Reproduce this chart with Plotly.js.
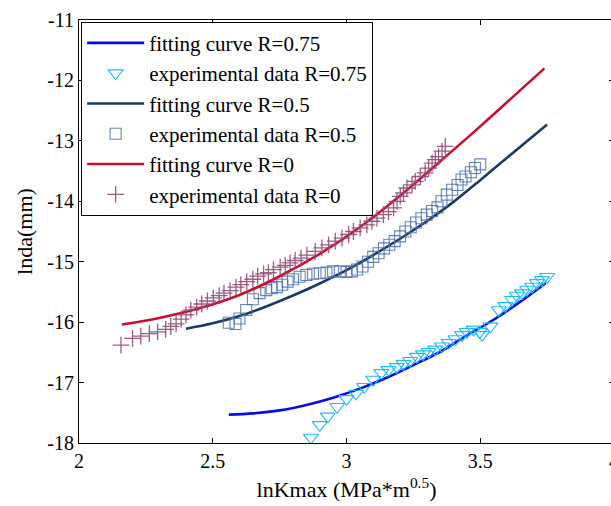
<!DOCTYPE html>
<html>
<head>
<meta charset="utf-8">
<script src="https://cdn.plot.ly/plotly-3.0.1.min.js"></script>
<style>
html, body { margin: 0; padding: 0; overflow: hidden; background: #fff; font-family: 'Times New Roman'; }
#chart svg text { font-family: 'Times New Roman', 'Liberation Serif', serif !important; }
</style>
</head>
<body>
<div id="chart" style="width:620px;height:506px"></div>
<script>
// Fitting curve R=0.75
var fit075X = [2.56, 2.65, 2.75, 2.85, 2.95, 3.05, 3.15, 3.25, 3.35, 3.45, 3.55, 3.65, 3.745];
var fit075Y = [-17.53, -17.51, -17.46, -17.37, -17.25, -17.10, -16.92, -16.71, -16.49, -16.22, -15.96, -15.66, -15.35];
// Experimental data R=0.75
var exp075X = [2.867, 2.90, 2.93, 2.965, 3.00, 3.036, 3.066, 3.10, 3.13, 3.157, 3.188, 3.213, 3.238, 3.263, 3.286, 3.307, 3.332, 3.357, 3.382, 3.407, 3.432, 3.45, 3.475, 3.498, 3.507, 3.538, 3.569, 3.594, 3.619, 3.637, 3.656, 3.675, 3.694, 3.712, 3.731, 3.75];
var exp075Y = [-17.91, -17.70, -17.56, -17.40, -17.27, -17.18, -17.07, -16.95, -16.84, -16.79, -16.74, -16.69, -16.64, -16.57, -16.53, -16.49, -16.45, -16.40, -16.34, -16.28, -16.21, -16.16, -16.12, -16.16, -16.21, -16.07, -15.80, -15.73, -15.63, -15.56, -15.52, -15.46, -15.41, -15.35, -15.30, -15.25];
// Fitting curve R=0.5
var fit05X = [2.40, 2.5, 2.6, 2.7, 2.8, 2.9, 3.0, 3.1, 3.2, 3.3, 3.4, 3.5, 3.6, 3.75];
var fit05Y = [-16.11, -16.02, -15.90, -15.74, -15.56, -15.36, -15.14, -14.89, -14.62, -14.33, -14.01, -13.65, -13.28, -12.73];
// Experimental data R=0.5
var exp05X = [2.56, 2.585, 2.60, 2.625, 2.65, 2.675, 2.70, 2.72, 2.74, 2.76, 2.78, 2.80, 2.825, 2.85, 2.875, 2.90, 2.925, 2.95, 2.975, 3.00, 3.02, 3.04, 3.06, 3.08, 3.10, 3.12, 3.14, 3.16, 3.18, 3.20, 3.22, 3.24, 3.26, 3.28, 3.30, 3.32, 3.34, 3.355, 3.375, 3.395, 3.415, 3.43, 3.445, 3.465, 3.48, 3.50];
var exp05Y = [-16.01, -16.03, -15.94, -15.80, -15.62, -15.52, -15.47, -15.44, -15.42, -15.38, -15.33, -15.29, -15.25, -15.22, -15.20, -15.19, -15.18, -15.16, -15.16, -15.17, -15.16, -15.13, -15.08, -15.00, -14.92, -14.86, -14.78, -14.72, -14.66, -14.58, -14.50, -14.43, -14.35, -14.28, -14.22, -14.16, -14.10, -14.00, -13.89, -13.81, -13.73, -13.64, -13.59, -13.52, -13.45, -13.39];
// Fitting curve R=0
var fit0X = [2.16, 2.3, 2.45, 2.6, 2.75, 2.9, 3.05, 3.2, 3.35, 3.5, 3.62, 3.74];
var fit0Y = [-16.04, -15.93, -15.77, -15.55, -15.24, -14.87, -14.43, -13.91, -13.34, -12.76, -12.28, -11.80];
// Experimental data R=0
var exp0X = [2.157, 2.200, 2.231, 2.263, 2.294, 2.324, 2.343, 2.363, 2.382, 2.400, 2.418, 2.440, 2.459, 2.480, 2.502, 2.524, 2.542, 2.565, 2.587, 2.605, 2.627, 2.650, 2.668, 2.690, 2.708, 2.727, 2.752, 2.771, 2.789, 2.808, 2.830, 2.852, 2.883, 2.908, 2.933, 2.958, 2.983, 3.008, 3.026, 3.051, 3.076, 3.095, 3.114, 3.138, 3.157, 3.176, 3.189, 3.201, 3.213, 3.226, 3.245, 3.257, 3.276, 3.294, 3.307, 3.320, 3.332, 3.344, 3.357, 3.369];
var exp0Y = [-16.38, -16.27, -16.23, -16.19, -16.16, -16.12, -16.07, -16.03, -15.95, -15.88, -15.80, -15.75, -15.70, -15.65, -15.60, -15.56, -15.52, -15.48, -15.42, -15.38, -15.33, -15.29, -15.24, -15.20, -15.18, -15.13, -15.09, -15.06, -15.02, -14.98, -14.94, -14.89, -14.83, -14.77, -14.72, -14.66, -14.61, -14.55, -14.50, -14.44, -14.39, -14.33, -14.28, -14.22, -14.17, -14.11, -14.00, -13.92, -13.86, -13.78, -13.73, -13.67, -13.59, -13.53, -13.45, -13.37, -13.31, -13.26, -13.17, -13.09];

var xTicks = [2, 2.5, 3, 3.5, 4];
var xTickText = ['2', '2.5', '3', '3.5', '4'];
var yTicks = [-18, -17, -16, -15, -14, -13, -12, -11];
var yTickText = ['-18', '-17', '-16', '-15', '-14', '-13', '-12', '-11'];

var traces = [
  { x: fit075X, y: fit075Y, mode: 'lines', name: 'fitting curve R=0.75',
    line: { color: '#0a0aee', width: 2.6, shape: 'spline' } },
  { x: exp075X, y: exp075Y, mode: 'markers', name: 'experimental data R=0.75',
    marker: { symbol: 'triangle-down-open', size: 13, color: '#1fbdf0', line: { width: 1.1 } } },
  { x: fit05X, y: fit05Y, mode: 'lines', name: 'fitting curve R=0.5',
    line: { color: '#1c3b64', width: 2.6, shape: 'spline' } },
  { x: exp05X, y: exp05Y, mode: 'markers', name: 'experimental data R=0.5',
    marker: { symbol: 'square-open', size: 11, color: 'rgba(70,110,170,0.85)', line: { width: 1.1 } } },
  { x: fit0X, y: fit0Y, mode: 'lines', name: 'fitting curve R=0',
    line: { color: '#c8102e', width: 2.6, shape: 'spline' } },
  { x: exp0X, y: exp0Y, mode: 'markers', name: 'experimental data R=0',
    marker: { symbol: 'cross-thin-open', size: 12, color: 'rgba(145,75,120,0.9)', line: { width: 1.3 } } }
];

var layout = {
  width: 620, height: 506,
  margin: { l: 79, r: 6, t: 20, b: 63 },
  font: { family: 'Times New Roman', size: 20, color: '#000' },
  legend: {
    x: 0.004, y: 0.996, xanchor: 'left', yanchor: 'top',
    bgcolor: '#fff', bordercolor: '#000', borderwidth: 1,
    font: { family: 'Times New Roman', size: 21, color: '#000' },
    itemwidth: 57, tracegroupgap: 0
  },
  xaxis: {
    range: [2, 4], tickvals: xTicks, ticktext: xTickText,
    ticks: 'inside', ticklen: 5, tickcolor: '#000',
    showline: true, linecolor: '#000', mirror: 'ticks',
    showgrid: false, zeroline: false,
    tickfont: { family: 'Times New Roman', size: 20, color: '#000' },
    title: { text: 'lnKmax (MPa*m<sup>0.5</sup>)', font: { family: 'Times New Roman', size: 22, color: '#000' }, standoff: 10 }
  },
  yaxis: {
    range: [-18, -11], tickvals: yTicks, ticktext: yTickText,
    ticks: 'inside', ticklen: 5, tickcolor: '#000',
    showline: true, linecolor: '#000', mirror: 'ticks',
    showgrid: false, zeroline: false,
    tickfont: { family: 'Times New Roman', size: 20, color: '#000' },
    title: { text: 'lnda(mm)', font: { family: 'Times New Roman', size: 22, color: '#000' }, standoff: 8 }
  }
};

Plotly.newPlot('chart', traces, layout, { displayModeBar: false });
</script>
</body>
</html>
